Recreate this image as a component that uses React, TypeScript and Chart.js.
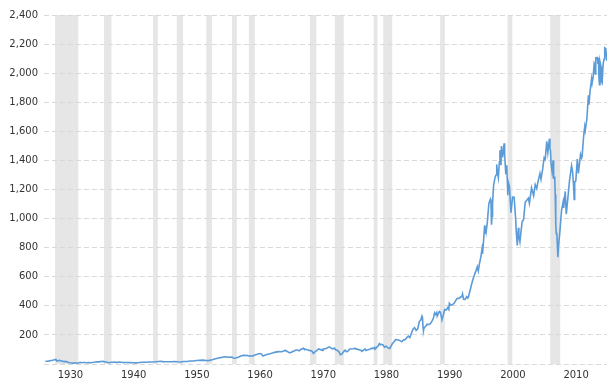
import { useEffect, useRef } from "react";
import { Chart, registerables } from "chart.js";

Chart.register(...registerables);

// S&P 500 closes (approximate)
const sp1928to1949: [string, number][] = [
  ["1928-01", 17.6], ["1928-03", 19.3], ["1928-06", 19.1], ["1928-09", 21.6], ["1928-12", 24.4],
  ["1929-03", 25.4], ["1929-06", 29.2], ["1929-09", 31.3], ["1929-11", 20.6], ["1929-12", 21.5],
  ["1930-04", 25.5], ["1930-06", 20.5], ["1930-09", 21.0], ["1930-12", 15.3],
  ["1931-03", 18.0], ["1931-06", 14.8], ["1931-09", 9.7], ["1931-12", 8.1],
  ["1932-03", 6.9], ["1932-06", 4.4], ["1932-09", 8.1], ["1932-12", 6.9],
  ["1933-03", 5.7], ["1933-07", 11.2], ["1933-10", 8.5], ["1933-12", 10.1],
  ["1934-03", 10.6], ["1934-07", 8.5], ["1934-12", 9.5],
  ["1935-03", 8.4], ["1935-06", 10.2], ["1935-09", 11.6], ["1935-12", 13.4],
  ["1936-03", 15.0], ["1936-06", 14.7], ["1936-09", 16.1], ["1936-12", 17.2],
  ["1937-02", 18.1], ["1937-06", 14.5], ["1937-09", 13.8], ["1937-12", 10.6],
  ["1938-03", 8.5], ["1938-06", 11.6], ["1938-09", 12.0], ["1938-12", 13.2],
  ["1939-03", 11.3], ["1939-06", 11.0], ["1939-09", 13.0], ["1939-12", 12.5],
  ["1940-03", 12.2], ["1940-05", 9.3], ["1940-09", 10.7], ["1940-12", 10.6],
  ["1941-06", 9.6], ["1941-12", 8.7],
  ["1942-04", 7.5], ["1942-09", 8.7], ["1942-12", 9.8],
  ["1943-06", 12.3], ["1943-12", 11.7],
  ["1944-06", 13.3], ["1944-12", 13.3],
  ["1945-06", 15.1], ["1945-12", 17.4],
  ["1946-05", 19.2], ["1946-10", 14.8], ["1946-12", 15.3],
  ["1947-06", 15.1], ["1947-12", 15.3],
  ["1948-06", 16.7], ["1948-12", 15.2],
  ["1949-06", 14.2], ["1949-12", 16.8],
];

const sp1950to1979: [string, number][] = [
  ["1950-06", 17.7], ["1950-12", 20.4],
  ["1951-06", 21.0], ["1951-12", 23.8],
  ["1952-06", 25.0], ["1952-12", 26.6],
  ["1953-06", 24.1], ["1953-09", 23.4], ["1953-12", 24.8],
  ["1954-06", 29.2], ["1954-12", 36.0],
  ["1955-06", 41.0], ["1955-09", 43.7], ["1955-12", 45.5],
  ["1956-03", 48.5], ["1956-07", 49.4], ["1956-12", 46.7],
  ["1957-07", 47.9], ["1957-10", 41.1], ["1957-12", 40.0],
  ["1958-06", 45.2], ["1958-12", 55.2],
  ["1959-07", 60.5], ["1959-09", 56.9], ["1959-12", 59.9],
  ["1960-03", 55.3], ["1960-06", 56.9], ["1960-10", 53.4], ["1960-12", 58.1],
  ["1961-06", 64.6], ["1961-12", 71.6],
  ["1962-03", 69.6], ["1962-06", 54.8], ["1962-12", 63.1],
  ["1963-06", 69.4], ["1963-12", 75.0],
  ["1964-06", 81.7], ["1964-12", 84.8],
  ["1965-06", 84.1], ["1965-12", 92.4],
  ["1966-01", 92.9], ["1966-09", 76.6], ["1966-12", 80.3],
  ["1967-06", 90.6], ["1967-09", 96.7], ["1967-12", 96.5],
  ["1968-03", 90.2], ["1968-06", 99.6], ["1968-11", 108.4], ["1968-12", 103.9],
  ["1969-06", 97.7], ["1969-12", 92.1],
  ["1970-03", 89.6], ["1970-06", 72.7], ["1970-09", 84.2], ["1970-12", 92.2],
  ["1971-04", 103.9], ["1971-11", 94.0], ["1971-12", 102.1],
  ["1972-06", 107.1], ["1972-12", 118.1],
  ["1973-06", 104.3], ["1973-10", 108.3], ["1973-12", 97.6],
  ["1974-03", 94.0], ["1974-06", 86.0], ["1974-09", 63.5], ["1974-12", 68.6],
  ["1975-03", 83.4], ["1975-06", 95.2], ["1975-09", 83.9], ["1975-12", 90.2],
  ["1976-03", 102.8], ["1976-09", 105.2], ["1976-12", 107.5],
  ["1977-06", 100.5], ["1977-12", 95.1],
  ["1978-02", 87.0], ["1978-08", 103.3], ["1978-10", 93.2], ["1978-12", 96.1],
  ["1979-06", 102.9], ["1979-09", 109.3], ["1979-12", 107.9],
];

const sp1980to1994: [string, number][] = [
  ["1980-02", 113.7], ["1980-03", 102.1], ["1980-06", 114.2], ["1980-09", 125.5], ["1980-11", 140.5], ["1980-12", 135.8],
  ["1981-03", 136.0], ["1981-06", 131.2], ["1981-09", 116.2], ["1981-12", 122.6],
  ["1982-03", 112.0], ["1982-07", 107.1], ["1982-09", 120.4], ["1982-12", 140.6],
  ["1983-03", 153.0], ["1983-06", 168.1], ["1983-09", 166.1], ["1983-12", 164.9],
  ["1984-03", 159.2], ["1984-06", 153.2], ["1984-09", 166.1], ["1984-12", 167.2],
  ["1985-03", 180.7], ["1985-06", 191.9], ["1985-09", 182.1], ["1985-12", 211.3],
  ["1986-03", 238.9], ["1986-06", 250.8], ["1986-09", 231.3], ["1986-12", 242.2],
  ["1987-03", 291.7], ["1987-06", 304.0], ["1987-08", 329.8], ["1987-09", 321.8], ["1987-10", 251.8], ["1987-11", 230.3], ["1987-12", 247.1],
  ["1988-03", 258.9], ["1988-06", 273.5], ["1988-09", 271.9], ["1988-12", 277.7],
  ["1989-03", 294.9], ["1989-06", 318.0], ["1989-08", 351.5], ["1989-10", 340.4], ["1989-12", 353.4],
  ["1990-01", 329.1], ["1990-05", 361.2], ["1990-07", 356.2], ["1990-10", 304.0], ["1990-12", 330.2],
  ["1991-03", 375.2], ["1991-06", 371.2], ["1991-09", 387.9], ["1991-11", 375.2], ["1991-12", 417.1],
  ["1992-03", 403.7], ["1992-06", 408.1], ["1992-09", 417.8], ["1992-12", 435.7],
  ["1993-03", 451.7], ["1993-06", 450.5], ["1993-09", 458.9], ["1993-12", 466.5],
  ["1994-01", 481.6], ["1994-03", 445.8], ["1994-06", 444.3], ["1994-09", 462.7], ["1994-11", 453.7], ["1994-12", 459.3],
];

const sp1995to2007: [string, number][] = [
  ["1995-03", 500.7], ["1995-06", 544.8], ["1995-09", 584.4], ["1995-12", 615.9],
  ["1996-03", 645.5], ["1996-05", 669.1], ["1996-07", 640.0], ["1996-09", 687.3], ["1996-12", 740.7],
  ["1997-02", 790.8], ["1997-03", 757.1], ["1997-05", 848.3], ["1997-07", 954.3], ["1997-08", 899.5], ["1997-09", 947.3], ["1997-10", 914.6], ["1997-12", 970.4],
  ["1998-03", 1101.8], ["1998-06", 1133.8], ["1998-07", 1120.7], ["1998-08", 957.3], ["1998-09", 1017.0], ["1998-10", 1098.7], ["1998-12", 1229.2],
  ["1999-03", 1286.4], ["1999-05", 1301.8], ["1999-06", 1372.7], ["1999-07", 1328.7], ["1999-09", 1282.7], ["1999-11", 1388.9], ["1999-12", 1469.3],
  ["2000-02", 1366.4], ["2000-03", 1498.6], ["2000-04", 1452.4], ["2000-05", 1420.6], ["2000-06", 1454.6], ["2000-08", 1517.7], ["2000-09", 1436.5], ["2000-11", 1315.2], ["2000-12", 1320.3],
  ["2001-01", 1366.0], ["2001-03", 1160.3], ["2001-04", 1249.5], ["2001-06", 1224.4], ["2001-09", 1040.9], ["2001-12", 1148.1],
  ["2002-03", 1147.4], ["2002-06", 989.8], ["2002-07", 911.6], ["2002-09", 815.3], ["2002-11", 936.3], ["2002-12", 879.8],
  ["2003-02", 841.2], ["2003-06", 974.5], ["2003-09", 996.0], ["2003-12", 1111.9],
  ["2004-03", 1126.2], ["2004-06", 1140.8], ["2004-08", 1104.2], ["2004-12", 1211.9],
  ["2005-04", 1156.9], ["2005-07", 1234.2], ["2005-10", 1207.0], ["2005-12", 1248.3],
  ["2006-04", 1310.6], ["2006-06", 1270.2], ["2006-09", 1335.9], ["2006-12", 1418.3],
  ["2007-02", 1406.8], ["2007-05", 1530.6], ["2007-07", 1455.3], ["2007-10", 1549.4], ["2007-11", 1481.1], ["2007-12", 1468.4],
];

const sp2008to2016: [string, number][] = [
  ["2008-01", 1378.6], ["2008-03", 1322.7], ["2008-05", 1400.4], ["2008-06", 1280.0], ["2008-08", 1282.8], ["2008-09", 1166.4], ["2008-10", 968.8], ["2008-11", 896.2], ["2008-12", 903.3],
  ["2009-01", 825.9], ["2009-02", 735.1], ["2009-03", 797.9], ["2009-06", 919.3], ["2009-09", 1057.1], ["2009-12", 1115.1],
  ["2010-01", 1073.9], ["2010-04", 1186.7], ["2010-06", 1030.7], ["2010-09", 1141.2], ["2010-12", 1257.6],
  ["2011-04", 1363.6], ["2011-06", 1320.6], ["2011-08", 1218.9], ["2011-09", 1131.4], ["2011-10", 1253.3], ["2011-12", 1257.6],
  ["2012-03", 1408.5], ["2012-05", 1310.3], ["2012-09", 1440.7], ["2012-11", 1416.2], ["2012-12", 1426.2],
  ["2013-03", 1569.2], ["2013-05", 1630.7], ["2013-06", 1606.3], ["2013-09", 1681.6], ["2013-12", 1848.4],
  ["2014-01", 1782.6], ["2014-03", 1872.3], ["2014-06", 1960.2], ["2014-07", 1930.7], ["2014-09", 1972.3], ["2014-11", 2067.6], ["2014-12", 2058.9],
  ["2015-01", 1995.0], ["2015-02", 2104.5], ["2015-05", 2107.4], ["2015-06", 2063.1], ["2015-07", 2103.8], ["2015-08", 1972.2], ["2015-09", 1920.0], ["2015-10", 2079.4], ["2015-12", 2043.9],
  ["2016-01", 1940.2], ["2016-02", 1932.2], ["2016-04", 2065.3], ["2016-06", 2098.9], ["2016-07", 2173.6], ["2016-09", 2168.3], ["2016-11", 2085.0],
];

// NBER recessions (start month, end month)
const recessionStarts = ["1929-08", "1937-05", "1945-02", "1948-11", "1953-07", "1957-08", "1960-04", "1969-12", "1973-11", "1980-01", "1981-07", "1990-07", "2001-03", "2007-12"];
const recessionEnds = ["1933-03", "1938-06", "1945-10", "1949-10", "1954-05", "1958-04", "1961-02", "1970-11", "1975-03", "1980-07", "1982-11", "1991-03", "2001-11", "2009-06"];

const yTickValues = [0, 200, 400, 600, 800, 1000, 1200, 1400, 1600, 1800, 2000, 2200, 2400];
const xTickYears = [1930, 1940, 1950, 1960, 1970, 1980, 1990, 2000, 2010];

function monthStart(s: string): number {
  const [y, m] = s.split("-").map(Number);
  return y + (m - 1) / 12;
}
function monthMid(s: string): number {
  return monthStart(s) + 0.5 / 12;
}

export default function App() {
  const ref = useRef<HTMLCanvasElement>(null);

  useEffect(() => {
    document.body.style.margin = "0";
    const all = [...sp1928to1949, ...sp1950to1979, ...sp1980to1994, ...sp1995to2007, ...sp2008to2016];
    const points = all.map(([d, v]) => ({ x: monthMid(d), y: v }));

    const recessionPlugin = {
      id: "recessions",
      beforeDraw(chart: any) {
        const { ctx, chartArea, scales } = chart;
        const xs = scales.x;
        ctx.save();
        ctx.fillStyle = "#e6e6e6";
        recessionStarts.forEach((s, i) => {
          const x1 = xs.getPixelForValue(monthStart(s));
          const x2 = xs.getPixelForValue(monthStart(recessionEnds[i]) + 1 / 12);
          ctx.fillRect(x1, chartArea.top, x2 - x1, chartArea.bottom - chartArea.top);
        });
        ctx.restore();
      },
    };

    const font = { family: "'DejaVu Sans', Verdana, sans-serif", size: 10 };

    const chart = new Chart(ref.current as HTMLCanvasElement, {
      type: "line",
      data: {
        datasets: [
          {
            data: points,
            borderColor: "#5b9bd8",
            borderWidth: 1.6,
            pointRadius: 0,
            tension: 0,
            fill: false,
          },
        ],
      },
      options: {
        animation: false,
        responsive: false,
        layout: { padding: { top: 15, right: 9, left: 0, bottom: 0 } },
        plugins: { legend: { display: false }, tooltip: { enabled: false } },
        scales: {
          x: {
            type: "linear",
            min: 1927.83,
            max: 2016.9,
            afterBuildTicks: (s: any) => {
              s.ticks = xTickYears.map((v) => ({ value: v }));
            },
            afterFit: (s: any) => {
              s.height = 21;
            },
            grid: { display: false, drawTicks: false },
            border: { display: false },
            ticks: {
              align: "start",
              padding: 5,
              color: "#333",
              font,
              maxRotation: 0,
              autoSkip: false,
              callback: (v: any) => String(v),
            },
          },
          y: {
            min: 0,
            max: 2400,
            afterBuildTicks: (s: any) => {
              s.ticks = yTickValues.map((v) => ({ value: v }));
            },
            afterFit: (s: any) => {
              s.width = 44;
            },
            grid: { color: "#d9d9d9", drawTicks: false },
            border: { display: false, dash: [5, 3] },
            ticks: {
              padding: 6,
              color: "#333",
              font,
              autoSkip: false,
              callback: (v: any) => (Number(v) === 0 ? "" : Number(v).toLocaleString("en-US")),
            },
          },
        },
      } as any,
      plugins: [recessionPlugin],
    });

    return () => chart.destroy();
  }, []);

  return (
    <div style={{ width: 616, height: 385 }}>
      <canvas ref={ref} width={616} height={385} />
    </div>
  );
}
